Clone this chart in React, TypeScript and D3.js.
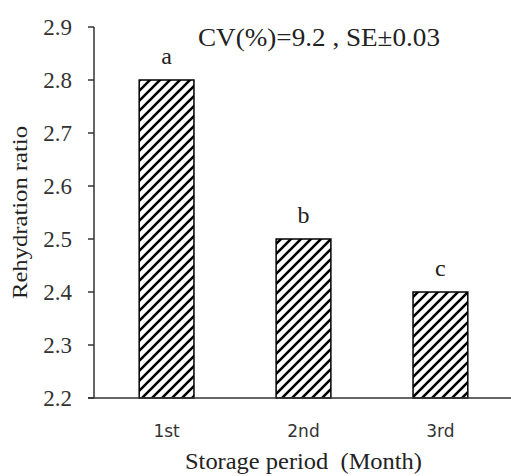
import React from 'react';
import * as d3 from 'd3';

const categories = ['1st', '2nd', '3rd'];
const values = [2.8, 2.5, 2.4];
const letters = ['a', 'b', 'c'];
const yTicks = [2.2, 2.3, 2.4, 2.5, 2.6, 2.7, 2.8, 2.9];

const W = 511;
const H = 476;
const margin = { top: 27, right: 0, bottom: 78, left: 94 };

const App = () => {
  const x = d3.scaleBand<string>()
    .domain(categories)
    .range([margin.left, 513])
    .paddingInner(0.6)
    .paddingOuter(0.33);

  const y = d3.scaleLinear()
    .domain([2.2, 2.9])
    .range([H - margin.bottom, margin.top]);

  const serif = '"Liberation Serif", "Times New Roman", serif';

  return (
    <div style={{ position: 'absolute', left: 0, top: 0 }}>
      <svg width={W} height={H} style={{ display: 'block', background: '#fff' }}>
        <defs>
          <pattern id="hatch" patternUnits="userSpaceOnUse" width={10} height={10}>
            <rect width={10} height={10} fill="#fff" />
            <path d="M-1,1 l2,-2 M0,10 l10,-10 M9,11 l2,-2" stroke="#000" strokeWidth={2.6} />
          </pattern>
        </defs>

        {/* bars */}
        {categories.map((c, i) => (
          <rect
            key={c}
            x={x(c)}
            y={y(values[i])}
            width={x.bandwidth()}
            height={y(2.2) - y(values[i])}
            fill="url(#hatch)"
            stroke="#000"
            strokeWidth={1.5}
          />
        ))}

        {/* significance letters */}
        {categories.map((c, i) => (
          <text
            key={`l-${c}`}
            x={(x(c) ?? 0) + x.bandwidth() / 2}
            y={y(values[i]) - 16}
            textAnchor="middle"
            style={{ fontFamily: serif, fontSize: '24px' }}
            fill="#222"
          >
            {letters[i]}
          </text>
        ))}

        {/* y axis */}
        <line x1={margin.left} x2={margin.left} y1={y(2.9)} y2={y(2.2)} stroke="#333" strokeWidth={1.5} />
        {yTicks.map(t => (
          <g key={t}>
            <line x1={margin.left - 6} x2={margin.left} y1={y(t)} y2={y(t)} stroke="#333" strokeWidth={1.5} />
            <text
              x={72}
              y={y(t) + 7.5}
              textAnchor="end"
              style={{ fontFamily: serif, fontSize: '23px' }}
              fill="#333"
            >
              {t.toFixed(1)}
            </text>
          </g>
        ))}

        {/* x axis */}
        <line x1={margin.left - 6} x2={W} y1={y(2.2)} y2={y(2.2)} stroke="#333" strokeWidth={1.5} />
        {categories.map(c => (
          <text
            key={`x-${c}`}
            x={(x(c) ?? 0) + x.bandwidth() / 2}
            y={437}
            textAnchor="middle"
            style={{ fontFamily: '"DejaVu Sans", sans-serif', fontSize: '17px' }}
            fill="#333"
          >
            {c}
          </text>
        ))}

        {/* annotation */}
        <text
          x={198}
          y={46}
          textLength={242}
          lengthAdjust="spacingAndGlyphs"
          style={{ fontFamily: serif, fontSize: '25px' }}
          fill="#222"
        >
          CV(%)=9.2 , SE±0.03
        </text>

        {/* axis titles */}
        <text
          x={185}
          y={469}
          textLength={237}
          lengthAdjust="spacingAndGlyphs"
          style={{ fontFamily: serif, fontSize: '23px', whiteSpace: 'pre' }}
          fill="#222"
        >
          {'Storage period  (Month)'}
        </text>
        <text
          transform={`translate(27, ${(y(2.9) + y(2.2)) / 2}) rotate(-90)`}
          x={-86.5}
          textLength={173}
          lengthAdjust="spacingAndGlyphs"
          style={{ fontFamily: serif, fontSize: '21px' }}
          fill="#222"
        >
          Rehydration ratio
        </text>
      </svg>
    </div>
  );
};

export default App;
